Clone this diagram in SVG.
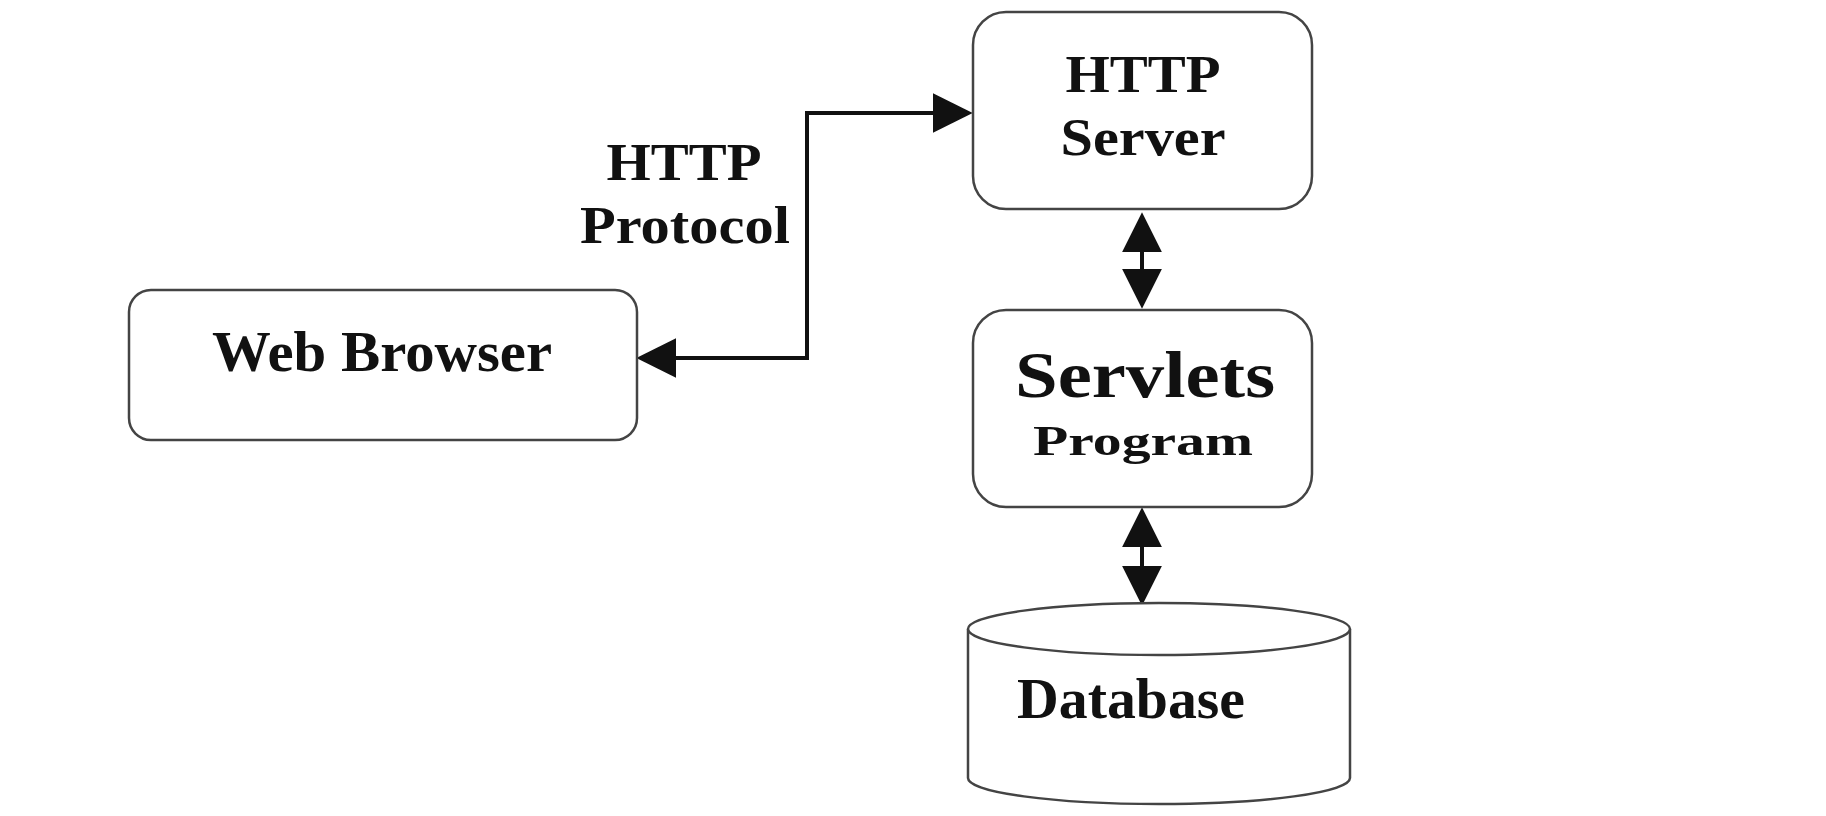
<svg xmlns="http://www.w3.org/2000/svg" width="1826" height="816" viewBox="0 0 1826 816">
<style>
.box{fill:#fff;stroke:#444;stroke-width:2.5}
.lbl{font-family:"Liberation Serif","Times New Roman",serif;font-weight:bold;fill:#111;text-anchor:middle}
.con{fill:none;stroke:#111;stroke-width:4}
</style>
<defs>
<marker id="ah" markerUnits="userSpaceOnUse" markerWidth="40" markerHeight="40" viewBox="0 0 34 34" refX="30" refY="17" orient="auto-start-reverse">
<path d="M0,0 L34,17 L0,34 z" fill="#111"/>
</marker>
</defs>
<rect width="1826" height="816" fill="#fff"/>
<g id="connectors">
<path class="con" d="M641,358 H807 V113 H968" marker-start="url(#ah)" marker-end="url(#ah)"/>
<path class="con" d="M1142,217 V304" marker-start="url(#ah)" marker-end="url(#ah)"/>
<path class="con" d="M1142,512 V601" marker-start="url(#ah)" marker-end="url(#ah)"/>
</g>
<g id="http-protocol-label">
<text class="lbl" x="684" y="180" font-size="52" textLength="155" lengthAdjust="spacingAndGlyphs">HTTP</text>
<text class="lbl" x="685" y="243" font-size="52" textLength="210" lengthAdjust="spacingAndGlyphs">Protocol</text>
</g>
<g id="http-server">
<rect class="box" x="973" y="12" width="339" height="197" rx="33"/>
<text class="lbl" x="1143" y="92" font-size="53" textLength="155" lengthAdjust="spacingAndGlyphs">HTTP</text>
<text class="lbl" x="1143" y="155" font-size="53" textLength="165" lengthAdjust="spacingAndGlyphs">Server</text>
</g>
<g id="web-browser">
<rect class="box" x="129" y="290" width="508" height="150" rx="22"/>
<text class="lbl" x="382" y="371" font-size="57" textLength="340" lengthAdjust="spacingAndGlyphs">Web Browser</text>
</g>
<g id="servlets-program">
<rect class="box" x="973" y="310" width="339" height="197" rx="33"/>
<text class="lbl" x="1145" y="397" font-size="66" textLength="260" lengthAdjust="spacingAndGlyphs">Servlets</text>
<text class="lbl" x="1143" y="455" font-size="42" textLength="220" lengthAdjust="spacingAndGlyphs">Program</text>
</g>
<g id="database">
<path class="box" d="M968,629 V778 A191,26 0 0 0 1350,778 V629"/>
<ellipse class="box" cx="1159" cy="629" rx="191" ry="26"/>
<text class="lbl" x="1131" y="718" font-size="56" textLength="228" lengthAdjust="spacingAndGlyphs">Database</text>
</g>
</svg>
